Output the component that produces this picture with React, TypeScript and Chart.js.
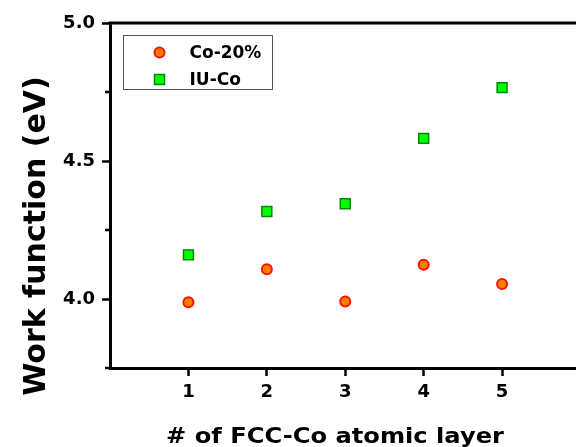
import React, { useEffect, useRef } from 'react';
import { Chart, registerables } from 'chart.js';

Chart.register(...registerables);

// ---- data ----
const layers = [1, 2, 3, 4, 5];
const co20 = [3.988, 4.108, 3.991, 4.124, 4.054];
const iuCo = [4.160, 4.317, 4.345, 4.582, 4.766];
const seriesNames = ['Co-20%', 'IU-Co'];
const yMajorTicks = [4.0, 4.5, 5.0];
const yMinorTicks = [3.75, 4.25, 4.75];
const xTitle = '# of FCC-Co atomic layer';
const yTitle = 'Work function (eV)';

const FONT = '"DejaVu Sans", "Liberation Sans", sans-serif';
const CO_FILL = '#FF8000';
const CO_EDGE = '#FF1000';
const IU_FILL = '#00FF00';
const IU_EDGE = '#008A00';

export default function App() {
  const ref = useRef<HTMLCanvasElement>(null);

  useEffect(() => {
    const canvas = ref.current!;
    const decor = {
      id: 'decor',
      afterDraw(chart: any) {
        const { ctx, chartArea: a, scales } = chart;
        ctx.save();
        // frame top/right
        ctx.strokeStyle = '#000';
        ctx.lineWidth = 3;
        ctx.beginPath();
        ctx.moveTo(a.left - 1.5, a.top);
        ctx.lineTo(a.right, a.top);
        ctx.lineTo(a.right, a.bottom);
        ctx.stroke();
        // minor y ticks
        ctx.lineWidth = 2.5;
        ctx.beginPath();
        for (const v of yMinorTicks) {
          const y = scales.y.getPixelForValue(v);
          ctx.moveTo(a.left - 5, y);
          ctx.lineTo(a.left, y);
        }
        ctx.stroke();

        // axis titles
        ctx.fillStyle = '#000';
        ctx.font = `bold 21px ${FONT}`;
        ctx.textAlign = 'center';
        ctx.textBaseline = 'alphabetic';
        ctx.save();
        ctx.translate(335, 443);
        ctx.scale(1.15, 1);
        ctx.fillText(xTitle, 0, 0);
        ctx.restore();

        ctx.save();
        ctx.font = `bold 30px ${FONT}`;
        ctx.translate(45, 236);
        ctx.rotate(-Math.PI / 2);
        ctx.fillText(yTitle, 0, 0);
        ctx.restore();

        // legend
        const lx = a.left + 13.5;
        const ly = a.top + 12.5;
        ctx.strokeStyle = '#555';
        ctx.lineWidth = 1;
        ctx.strokeRect(lx, ly, 149, 54);
        const mx = lx + 36;
        const rows = [ly + 17, ly + 44];
        // circle
        ctx.beginPath();
        ctx.arc(mx, rows[0], 5, 0, Math.PI * 2);
        ctx.fillStyle = CO_FILL;
        ctx.fill();
        ctx.lineWidth = 2;
        ctx.strokeStyle = CO_EDGE;
        ctx.stroke();
        // square
        ctx.fillStyle = IU_FILL;
        ctx.fillRect(mx - 5, rows[1] - 5, 10, 10);
        ctx.lineWidth = 1.5;
        ctx.strokeStyle = IU_EDGE;
        ctx.strokeRect(mx - 5, rows[1] - 5, 10, 10);
        ctx.fillStyle = '#000';
        ctx.font = `bold 17px ${FONT}`;
        ctx.textAlign = 'left';
        ctx.textBaseline = 'middle';
        ctx.fillText(seriesNames[0], lx + 66, rows[0] + 1);
        ctx.fillText(seriesNames[1], lx + 66, rows[1] + 1);
        ctx.restore();
      },
    };

    const isMajorY = (v: number) => yMajorTicks.some((m) => Math.abs(m - v) < 1e-6);

    const chart = new Chart(canvas, {
      type: 'scatter',
      data: {
        datasets: [
          {
            label: seriesNames[0],
            data: layers.map((x, i) => ({ x, y: co20[i] })),
            pointStyle: 'circle',
            pointRadius: 5,
            pointBorderWidth: 2,
            backgroundColor: CO_FILL,
            borderColor: CO_EDGE,
            showLine: false,
          },
          {
            label: seriesNames[1],
            data: layers.map((x, i) => ({ x, y: iuCo[i] })),
            pointStyle: 'rect',
            pointRadius: 7,
            pointBorderWidth: 1.5,
            backgroundColor: IU_FILL,
            borderColor: IU_EDGE,
            showLine: false,
          },
        ],
      },
      options: {
        responsive: false,
        animation: false,
        devicePixelRatio: 1,
        layout: { padding: { top: 23, right: 5, left: 0, bottom: 0 } },
        plugins: { legend: { display: false }, tooltip: { enabled: false } },
        scales: {
          x: {
            type: 'linear',
            min: 0,
            max: 6,
            afterFit: (s: any) => { s.height = 79; },
            ticks: {
              stepSize: 1,
              autoSkip: false,
              maxRotation: 0,
              padding: 6,
              color: '#000',
              font: { family: FONT, size: 18, weight: 'bold' },
              callback: (v: any) => (layers.includes(Number(v)) ? String(v) : ''),
            },
            grid: {
              drawOnChartArea: false,
              drawTicks: true,
              tickLength: 8,
              tickWidth: 2.5,
              tickColor: (c: any) => (c.tick && layers.includes(c.tick.value) ? '#000' : 'rgba(0,0,0,0)'),
            },
            border: { display: true, color: '#000', width: 3 },
          },
          y: {
            type: 'linear',
            min: 3.75,
            max: 5.0,
            afterFit: (s: any) => { s.width = 110; },
            ticks: {
              stepSize: 0.25,
              autoSkip: false,
              padding: 7,
              color: '#000',
              font: { family: FONT, size: 18, weight: 'bold' },
              callback: (v: any) => (isMajorY(Number(v)) ? Number(v).toFixed(1) : ''),
            },
            grid: {
              drawOnChartArea: false,
              drawTicks: true,
              tickLength: 8,
              tickWidth: 2.5,
              tickColor: (c: any) => (c.tick && isMajorY(c.tick.value) ? '#000' : 'rgba(0,0,0,0)'),
            },
            border: { display: true, color: '#000', width: 3 },
          },
        },
      },
      plugins: [decor],
    });
    return () => chart.destroy();
  }, []);

  return (
    <div style={{ position: 'fixed', left: 0, top: 0, width: 576, height: 447, overflow: 'hidden', background: '#fff' }}>
      <canvas ref={ref} width={589} height={447} style={{ display: 'block' }} />
    </div>
  );
}
